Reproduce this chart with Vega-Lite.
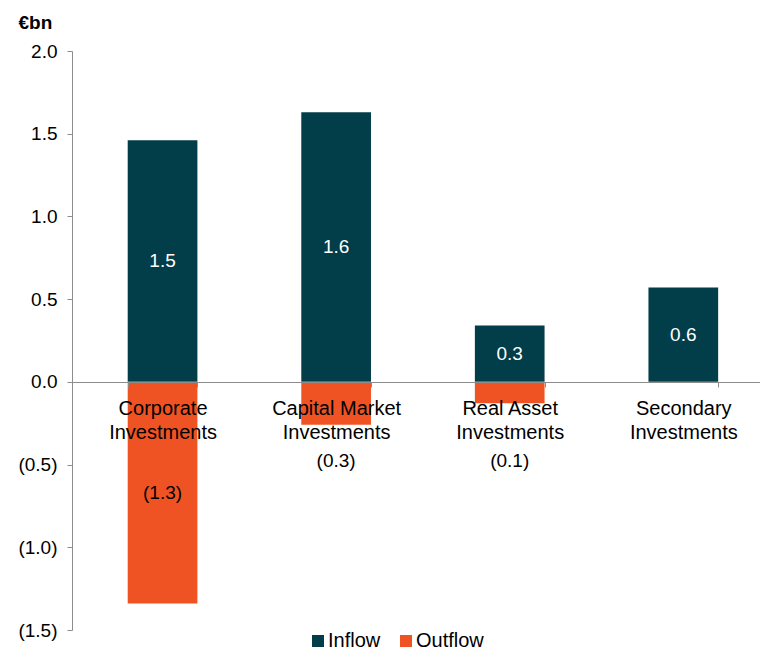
{
  "$schema": "https://vega.github.io/schema/vega-lite/v6.json",
  "width": 688,
  "height": 579,
  "autosize": {"type": "none"},
  "padding": {"left": 72, "top": 51, "right": 0, "bottom": 22},
  "background": "white",
  "config": {"font": "Liberation Sans", "view": {"stroke": null}},
  "data": {"values": [
    {"category": "Corporate Investments", "flow": "Inflow", "value": 1.46},
    {"category": "Corporate Investments", "flow": "Outflow", "value": -1.34},
    {"category": "Capital Market Investments", "flow": "Inflow", "value": 1.63},
    {"category": "Capital Market Investments", "flow": "Outflow", "value": -0.26},
    {"category": "Real Asset Investments", "flow": "Inflow", "value": 0.34},
    {"category": "Real Asset Investments", "flow": "Outflow", "value": -0.13},
    {"category": "Secondary Investments", "flow": "Inflow", "value": 0.57}
  ]},
  "encoding": {
    "x": {
      "field": "category", "type": "nominal", "sort": null,
      "scale": {"paddingInner": 0.5985, "paddingOuter": 0.281, "align": 0.571},
      "axis": {
        "orient": "bottom", "offset": -248, "title": null,
        "domainColor": "#8c8c8c", "tickColor": "#8c8c8c", "tickSize": 5,
        "tickBand": "extent", "labelAngle": 0, "labelFontSize": 20,
        "labelColor": "black", "labelPadding": 11, "labelLineHeight": 24,
        "labelExpr": "datum.label ? [replace(datum.label, ' Investments', ''), 'Investments'] : ''",
        "labelOverlap": false, "labelLimit": 0, "zindex": 1
      }
    }
  },
  "layer": [
    {
      "mark": {"type": "bar"},
      "encoding": {
        "y": {
          "field": "value", "type": "quantitative",
          "scale": {"domain": [-1.5, 2], "nice": false},
          "axis": {
            "values": [-1.5, -1, -0.5, 0, 0.5, 1, 1.5, 2], "format": "(.1f",
            "grid": false, "domainColor": "#8c8c8c", "tickColor": "#8c8c8c",
            "tickSize": 5, "labelPadding": 10, "labelFontSize": 19,
            "labelColor": "black", "labelFlush": false,
            "title": "€bn", "titleAngle": 0, "titleFontWeight": "bold",
            "titleFontSize": 19, "titleAlign": "left", "titleBaseline": "middle",
            "titleX": -54, "titleY": -29, "titleColor": "black"
          }
        },
        "color": {
          "field": "flow", "type": "nominal",
          "scale": {"domain": ["Inflow", "Outflow"], "range": ["#023D4A", "#F05323"]},
          "legend": {
            "orient": "none", "legendX": 236, "legendY": 580, "direction": "horizontal",
            "title": null, "symbolType": "square", "symbolSize": 144,
            "labelFontSize": 20, "labelColor": "black", "columnPadding": 15,
            "labelOffset": 0, "symbolStrokeWidth": 0, "padding": 0
          }
        }
      }
    },
    {
      "transform": [{"filter": "datum.flow == 'Inflow' || datum.value < -1"}],
      "mark": {"type": "text", "fontSize": 19, "align": "center", "baseline": "middle"},
      "encoding": {
        "y": {"field": "value", "type": "quantitative", "scale": {"domain": [-3, 4], "nice": false}, "axis": null},
        "text": {"field": "value", "type": "quantitative", "format": "(.1f"},
        "color": {"condition": {"test": "datum.flow == 'Inflow'", "value": "white"}, "value": "black"}
      }
    },
    {
      "transform": [{"filter": "datum.flow == 'Outflow' && datum.value > -1"}],
      "mark": {"type": "text", "fontSize": 19, "align": "center", "baseline": "middle", "color": "black"},
      "encoding": {
        "y": {"datum": -0.48, "type": "quantitative", "scale": {"domain": [-1.5, 2], "nice": false}, "axis": null},
        "text": {"field": "value", "type": "quantitative", "format": "(.1f"}
      }
    }
  ],
  "resolve": {"scale": {"y": "independent"}}
}
